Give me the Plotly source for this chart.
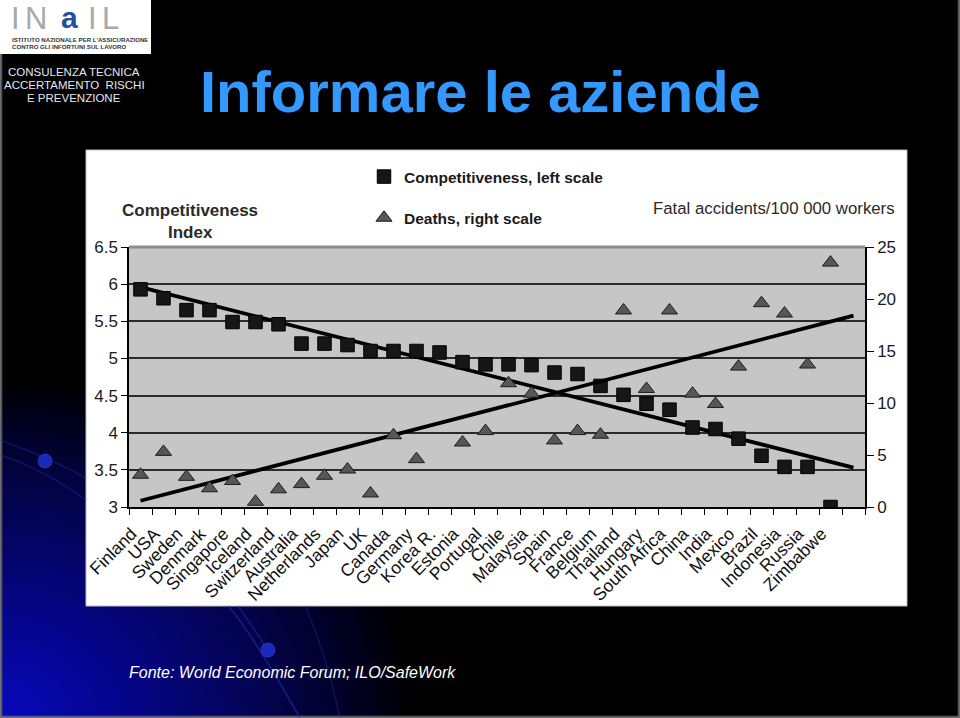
import zlib, struct, base64
import numpy as np
import plotly.graph_objects as go

# ---------------- data ----------------
countries = ["Finland", "USA", "Sweden", "Denmark", "Singapore", "Iceland", "Switzerland",
             "Australia", "Netherlands", "Japan", "UK", "Canada", "Germany", "Korea R.",
             "Estonia", "Portugal", "Chile", "Malaysia", "Spain", "France", "Belgium",
             "Thailand", "Hungary", "South Africa", "China", "India", "Mexico", "Brazil",
             "Indonesia", "Russia", "Zimbabwe"]
competitiveness = [5.93, 5.81, 5.65, 5.65, 5.49, 5.49, 5.46, 5.20, 5.20, 5.18, 5.10, 5.10,
                   5.10, 5.08, 4.95, 4.92, 4.92, 4.91, 4.81, 4.79, 4.63, 4.51, 4.39, 4.31,
                   4.07, 4.05, 3.92, 3.69, 3.54, 3.54, 3.00]
deaths = [3.1, 5.3, 2.9, 1.8, 2.5, 0.5, 1.7, 2.2, 3.0, 3.6, 1.3, 6.9, 4.6, None, 6.2, 7.3,
          11.9, 10.9, 6.4, 7.3, 6.95, 18.9, 11.35, 18.9, 10.9, 9.9, 13.5, 19.6, 18.6, 13.7, 23.5]
comp_trend_ends = [5.96, 3.53]
deaths_trend_ends = [0.6, 18.4]
left_ticks = [3, 3.5, 4, 4.5, 5, 5.5, 6, 6.5]
right_ticks = [0, 5, 10, 15, 20, 25]

FONT = "Liberation Sans, Arial, sans-serif"
W, H = 960, 718
L, R, T, B = 129, 865, 247, 507  # plot area in pixels


def px(x):
    return (x - L) / (R - L)


def py(y):
    return (B - y) / (B - T)


# ---------------- background image (slide) ----------------
def png_uri(arr):
    h, w, _ = arr.shape
    raw = b"".join(b"\x00" + arr[i].tobytes() for i in range(h))

    def chunk(t, d):
        return struct.pack(">I", len(d)) + t + d + struct.pack(">I", zlib.crc32(t + d) & 0xffffffff)

    png = (b"\x89PNG\r\n\x1a\n" + chunk(b"IHDR", struct.pack(">IIBBBBB", w, h, 8, 2, 0, 0, 0))
           + chunk(b"IDAT", zlib.compress(raw, 9)) + chunk(b"IEND", b""))
    return "data:image/png;base64," + base64.b64encode(png).decode()


sw, sh = 480, 359
yy, xx = np.mgrid[0:sh, 0:sw].astype(float)
xs = xx * W / sw
ys = yy * H / sh
d = np.sqrt((xs / 410.0) ** 2 + ((H - ys) / 340.0) ** 2)
inten = np.clip(1 - d, 0, 1) ** 0.85
img = np.zeros((sh, sw, 3), dtype=float)
img[..., 0] = 8 * inten
img[..., 1] = 8 * inten
img[..., 2] = 190 * inten
# thin grey slide border (left, right, bottom)
img[:, 0, :] = 110
img[:, -1, :] = 110
img[-1, :, :] = 110
bg = png_uri(np.clip(img, 0, 255).astype(np.uint8))

fig = go.Figure()

# ---------------- traces ----------------
xi = list(range(len(countries)))
trend_x = [0, len(countries)]
fig.add_trace(go.Scatter(x=trend_x, y=comp_trend_ends, mode="lines",
                         line=dict(color="#000000", width=3.8), showlegend=False, hoverinfo="skip"))
fig.add_trace(go.Scatter(x=trend_x, y=deaths_trend_ends, mode="lines", yaxis="y2",
                         line=dict(color="#000000", width=3.8), showlegend=False, hoverinfo="skip"))
fig.add_trace(go.Scatter(x=xi, y=competitiveness, mode="markers", name="Competitiveness, left scale",
                         legendgroup="a",
                         marker=dict(symbol="square", size=13.5, color="#161616",
                                     line=dict(color="#000000", width=1))))
fig.add_trace(go.Scatter(x=xi, y=deaths, mode="markers", name="Deaths, right scale", yaxis="y2",
                         legendgroup="b",
                         marker=dict(symbol="triangle-up", size=14, color="#575757",
                                     line=dict(color="#1e1e1e", width=1))))

# ---------------- shapes ----------------
shapes = [
    # white chart panel
    dict(type="rect", xref="paper", yref="paper", x0=px(86), x1=px(907), y0=py(150), y1=py(606),
         fillcolor="#ffffff", line=dict(color="#bdbdbd", width=1), layer="below"),
    # grey plot area
    dict(type="rect", xref="paper", yref="paper", x0=0, x1=1, y0=0, y1=1,
         fillcolor="#c6c6c6", line=dict(width=0), layer="below"),
    # logo box
    dict(type="rect", xref="paper", yref="paper", x0=px(0), x1=px(151), y0=py(0), y1=py(54),
         fillcolor="#ffffff", line=dict(width=0), layer="below"),
    # top border of plot area
    dict(type="line", xref="paper", yref="paper", x0=0, x1=1, y0=1, y1=1,
         line=dict(color="#8c8c8c", width=3), layer="above"),
]


def path(points):
    s = "M %f,%f" % (px(points[0][0]), py(points[0][1]))
    s += " Q %f,%f %f,%f" % (px(points[1][0]), py(points[1][1]), px(points[2][0]), py(points[2][1]))
    return s


for pts, col in [
    (((228, 606), (250, 630), (300, 718)), "rgba(40,50,200,0.55)"),
    (((238, 606), (262, 640), (268, 652)), "rgba(40,50,200,0.45)"),
    (((305, 606), (325, 650), (340, 718)), "rgba(40,50,200,0.35)"),
    (((0, 440), (50, 458), (86, 478)), "rgba(40,50,200,0.35)"),
    (((0, 455), (45, 470), (86, 500)), "rgba(40,50,200,0.35)"),
]:
    shapes.append(dict(type="path", xref="paper", yref="paper", path=path(pts),
                       line=dict(color=col, width=1.5), layer="below"))
for cx, cy, r in [(45, 461, 7), (268, 650, 7)]:
    shapes.append(dict(type="circle", xref="paper", yref="paper",
                       x0=px(cx - r), x1=px(cx + r), y0=py(cy + r), y1=py(cy - r),
                       fillcolor="#1a2ab8", line=dict(color="rgba(60,70,220,0.6)", width=1),
                       layer="below"))

# ---------------- annotations ----------------
anns = []


def ann(text, x, y, size, color, xanchor="left", bold=False, italic=False, family=FONT,
        yanchor="middle"):
    anns.append(dict(text=text, x=px(x), y=py(y), xref="paper", yref="paper",
                     xanchor=xanchor, yanchor=yanchor, showarrow=False,
                     font=dict(family=family, size=size, color=color,
                               weight="bold" if bold else "normal",
                               style="italic" if italic else "normal")))


# logo
ann("I", 15, 18, 31, "#a9a9a9", xanchor="center")
ann("N", 36, 18, 31, "#a9a9a9", xanchor="center")
ann("a", 69, 17.5, 30, "#23509e", xanchor="center", bold=True)
ann("I", 92, 18, 31, "#a9a9a9", xanchor="center")
ann("L", 110, 18, 31, "#a9a9a9", xanchor="center")
ann("ISTITUTO NAZIONALE PER L'ASSICURAZIONE", 10, 39, 6.1, "#333333", bold=True)
ann("CONTRO GLI INFORTUNI SUL LAVORO", 10, 46, 6.1, "#333333", bold=True)
# side header
ann("CONSULENZA TECNICA", 74, 72, 11.5, "#e6e6f0", xanchor="center")
ann("ACCERTAMENTO  RISCHI", 74, 85, 11.5, "#e6e6f0", xanchor="center")
ann("E PREVENZIONE", 74, 98, 11.5, "#e6e6f0", xanchor="center")
# title
ann("Informare le aziende", 198, 92, 58, "#3399ff", bold=True)
# chart texts
ann("Competitiveness", 190, 210, 17, "#2a2a2a", xanchor="center", bold=True)
ann("Index", 190, 232, 17, "#2a2a2a", xanchor="center", bold=True)
ann("Fatal accidents/100 000 workers", 897, 208, 16.8, "#2a2a2a", xanchor="right")
# footer
ann("Fonte: World Economic Forum; ILO/SafeWork", 127, 672, 16, "#ffffff", italic=True)

fig.update_layout(
    width=W, height=H,
    margin=dict(l=L, r=W - R, t=T, b=H - B, pad=0, autoexpand=False),
    paper_bgcolor="#000000",
    plot_bgcolor="rgba(0,0,0,0)",
    font=dict(family=FONT, color="#1a1a1a"),
    images=[dict(source=bg, xref="paper", yref="paper", x=px(0), y=py(0),
                 sizex=W / (R - L), sizey=H / (B - T), sizing="stretch",
                 xanchor="left", yanchor="top", layer="below")],
    shapes=shapes,
    annotations=anns,
    showlegend=True,
    legend=dict(x=px(364), y=py(160), xanchor="left", yanchor="top",
                bgcolor="rgba(0,0,0,0)", tracegroupgap=18,
                font=dict(family=FONT, size=15.5, color="#1a1a1a", weight="bold"),
                itemsizing="trace"),
    xaxis=dict(range=[-0.5, len(countries) + 0.5], tickmode="array", tickvals=xi,
               ticktext=countries, tickangle=-45, ticks="", showgrid=False, zeroline=False,
               showline=True, linecolor="#000000", linewidth=1.5,
               ticklabelstandoff=8, ticklabelshift=-9,
               tickfont=dict(family=FONT, size=17.5, color="#111111"),
               minor=dict(tickmode="linear", tick0=-0.5, dtick=1, ticks="outside",
                          ticklen=6, tickcolor="#000000", tickwidth=1.2, showgrid=False)),
    yaxis=dict(range=[3, 6.5], tickmode="array", tickvals=left_ticks,
               ticktext=[("%g" % v) for v in left_ticks], ticks="outside", ticklen=6,
               tickcolor="#000000", showline=True, linecolor="#000000", linewidth=1.5,
               showgrid=True, gridcolor="#2b2b2b", gridwidth=1.5, zeroline=False,
               tickfont=dict(family=FONT, size=17, color="#1a1a1a")),
    yaxis2=dict(range=[0, 25], overlaying="y", side="right", tickmode="array",
                tickvals=right_ticks, ticks="outside", ticklen=7, tickcolor="#000000",
                showline=True, linecolor="#000000", linewidth=1.5, showgrid=False,
                zeroline=False, tickfont=dict(family=FONT, size=17, color="#1a1a1a")),
)

fig.write_html("out.html")
